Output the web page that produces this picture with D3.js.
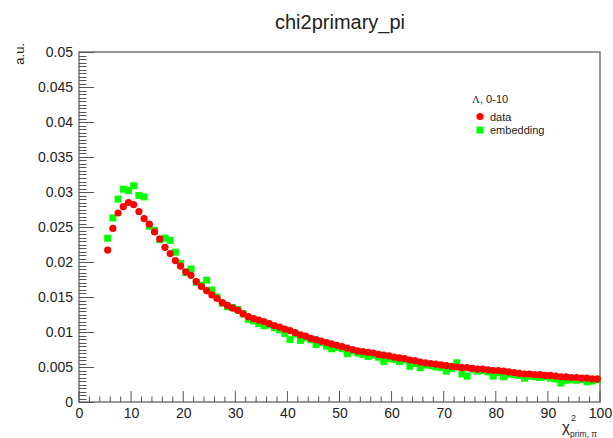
<!DOCTYPE html>
<html>
<head>
<meta charset="utf-8">
<script src="https://cdn.jsdelivr.net/npm/d3@7"></script>
<style>
  body { margin: 0; background: white; }
  text { font-family: "Liberation Sans", Arial, sans-serif; }
</style>
</head>
<body>
<div id="grafico"></div>
<script>
// bin centres (width 1, from 5 to 100)
var binStart = 5.5,
    titleText = "chi2primary_pi",
    legendHeader = ["\u039B", ", 0-10"],
    seriesNames = ["data", "embedding"];

var dataValues = [
  0.0217, 0.0248, 0.0270, 0.0279, 0.0285, 0.0282, 0.0272, 0.0262, 0.0254, 0.0243,
  0.0233, 0.0221, 0.0212, 0.0202, 0.0194, 0.0186, 0.0181, 0.0172, 0.0165, 0.0159,
  0.0153, 0.0148, 0.0142, 0.0138, 0.0134, 0.0131, 0.0126, 0.0122, 0.0119, 0.0117,
  0.0115, 0.0112, 0.0109, 0.0107, 0.0104, 0.0102, 0.0099, 0.0096, 0.0094, 0.0091,
  0.0089, 0.0087, 0.0085, 0.0083, 0.0081, 0.0079, 0.0077, 0.0075, 0.0073, 0.0072,
  0.0071, 0.0070, 0.0068, 0.0067, 0.0066, 0.0064, 0.0063, 0.0062, 0.0060, 0.0059,
  0.0057, 0.0056, 0.0055, 0.0054, 0.0053, 0.0052, 0.0051, 0.0050, 0.0049, 0.0049,
  0.0048, 0.0047, 0.0047, 0.0046, 0.0045, 0.0045, 0.0044, 0.0043, 0.0042, 0.0041,
  0.0040, 0.0040, 0.0039, 0.0039, 0.0038, 0.0038, 0.0037, 0.0036, 0.0036, 0.0035,
  0.0035, 0.0034, 0.0034, 0.0033, 0.0033
];

var embeddingValues = [
  0.0234, 0.0263, 0.0290, 0.0304, 0.0302, 0.0309, 0.0295, 0.0293, 0.0251, 0.0245,
  0.0232, 0.0234, 0.0231, 0.0214, 0.0198, 0.0185, 0.0190, 0.0171, 0.0167, 0.0174,
  0.0160, 0.0150, 0.0141, 0.0136, 0.0135, 0.0132, 0.0126, 0.0118, 0.0116, 0.0112,
  0.0109, 0.0110, 0.0106, 0.0103, 0.0098, 0.0089, 0.0097, 0.0088, 0.0092, 0.0089,
  0.0082, 0.0085, 0.0080, 0.0076, 0.0078, 0.0076, 0.0069, 0.0073, 0.0070, 0.0068,
  0.0065, 0.0067, 0.0064, 0.0058, 0.0062, 0.0061, 0.0058, 0.0060, 0.0051, 0.0055,
  0.0049, 0.0053, 0.0052, 0.0050, 0.0049, 0.0044, 0.0048, 0.0056, 0.0040, 0.0037,
  0.0047, 0.0044, 0.0045, 0.0043, 0.0037, 0.0042, 0.0036, 0.0040, 0.0039, 0.0038,
  0.0034, 0.0037, 0.0036, 0.0035, 0.0036, 0.0034, 0.0033, 0.0027, 0.0031, 0.0032,
  0.0031, 0.0032, 0.0029, 0.0030, 0.0032
];

var xTicks = [0, 10, 20, 30, 40, 50, 60, 70, 80, 90, 100],
    yTicks = [0, 0.005, 0.01, 0.015, 0.02, 0.025, 0.03, 0.035, 0.04, 0.045, 0.05];

var W = 613, H = 438,
    margin = {top: 52, right: 13, bottom: 36, left: 79},
    width = W - margin.left - margin.right,
    height = H - margin.top - margin.bottom;

var svg = d3.select("#grafico").append("svg")
    .attr("width", W)
    .attr("height", H)
    .style("background-color", "white");

var g = svg.append("g").attr("transform", "translate(" + margin.left + "," + margin.top + ")");

var xScale = d3.scaleLinear().domain([0, 100]).range([0, width]),
    yScale = d3.scaleLinear().domain([0, 0.05]).range([height, 0]);

var axisColor = "#555";

// minor ticks (drawn by hand, ROOT style: inside the frame)
var xMinor = d3.range(0, 101, 2),
    yMinor = d3.range(0, 101).map(function(i) { return i * 0.0005; });

g.selectAll(".xminor").data(xMinor).enter().append("line")
    .attr("x1", function(d) { return xScale(d); })
    .attr("x2", function(d) { return xScale(d); })
    .attr("y1", height).attr("y2", function(d) { return d % 10 == 0 ? height - 11 : height - 5.5; })
    .attr("stroke", axisColor).attr("stroke-width", 1);

g.selectAll(".yminor").data(yMinor).enter().append("line")
    .attr("y1", function(d) { return Math.round(yScale(d)) + 0.5; })
    .attr("y2", function(d) { return Math.round(yScale(d)) + 0.5; })
    .attr("x1", 0).attr("x2", function(d, i) { return i % 10 == 0 ? 15 : 7.5; })
    .attr("stroke", axisColor).attr("stroke-width", 1);

// frame
g.append("rect")
    .attr("x", 0).attr("y", 0)
    .attr("width", width).attr("height", height)
    .attr("fill", "none")
    .attr("stroke", axisColor)
    .attr("stroke-width", 1.2);

// axes for labels only
var xAxis = d3.axisBottom(xScale).tickValues(xTicks).tickSize(0).tickPadding(6)
        .tickFormat(d3.format("d")),
    yAxis = d3.axisLeft(yScale).tickValues(yTicks).tickSize(0).tickPadding(6)
        .tickFormat(function(d) { return d === 0 ? "0" : d3.format("~g")(+d.toFixed(3)); });

var gx = g.append("g").attr("transform", "translate(0," + height + ")").call(xAxis);
var gy = g.append("g").call(yAxis);
[gx, gy].forEach(function(a) {
    a.select(".domain").remove();
    a.selectAll("text").attr("font-size", 14).attr("fill", "#222")
        .style("font-family", "'Liberation Sans', Arial, sans-serif");
});

// series: embedding under data
g.selectAll(".emb").data(embeddingValues).enter().append("rect")
    .attr("x", function(d, i) { return xScale(binStart + i) - 3.5; })
    .attr("y", function(d) { return yScale(d) - 3.5; })
    .attr("width", 7).attr("height", 7)
    .attr("fill", "#00ff00");

g.selectAll(".dat").data(dataValues).enter().append("circle")
    .attr("cx", function(d, i) { return xScale(binStart + i); })
    .attr("cy", function(d) { return yScale(d); })
    .attr("r", 3.6)
    .attr("fill", "#ff0000");

// title
svg.append("text")
    .attr("x", 340).attr("y", 29)
    .attr("text-anchor", "middle")
    .attr("font-size", 20)
    .attr("fill", "#222")
    .text(titleText);

// axis titles
svg.append("text")
    .attr("transform", "translate(24,43) rotate(-90)")
    .attr("text-anchor", "end")
    .attr("font-size", 13)
    .attr("fill", "#222")
    .text("a.u.");

// x title: chi^2 with subscript, placed under the last tick labels
svg.append("text")
    .attr("x", 562).attr("y", 432)
    .attr("font-size", 15).attr("fill", "#222")
    .text("\u03C7");
svg.append("text")
    .attr("x", 571).attr("y", 421)
    .attr("font-size", 9).attr("fill", "#222")
    .text("2");
svg.append("text")
    .attr("x", 570).attr("y", 437)
    .attr("font-size", 8.5).attr("fill", "#222")
    .text("prim, \u03C0");

// legend
var leg = svg.append("g");
var lh = leg.append("text").attr("x", 472).attr("y", 103)
    .attr("font-size", 11).attr("fill", "#222");
lh.append("tspan").style("font-family", "'Liberation Serif', 'DejaVu Serif', serif").text(legendHeader[0]);
lh.append("tspan").text(legendHeader[1]);
leg.append("circle").attr("cx", 480).attr("cy", 116.5).attr("r", 3.6).attr("fill", "#ff0000");
leg.append("text").attr("x", 490).attr("y", 120.5)
    .attr("font-size", 11).attr("fill", "#222").text(seriesNames[0]);
leg.append("rect").attr("x", 476.5).attr("y", 126.5).attr("width", 7).attr("height", 7).attr("fill", "#00ff00");
leg.append("text").attr("x", 490).attr("y", 134)
    .attr("font-size", 11).attr("fill", "#222").text(seriesNames[1]);
</script>
</body>
</html>
